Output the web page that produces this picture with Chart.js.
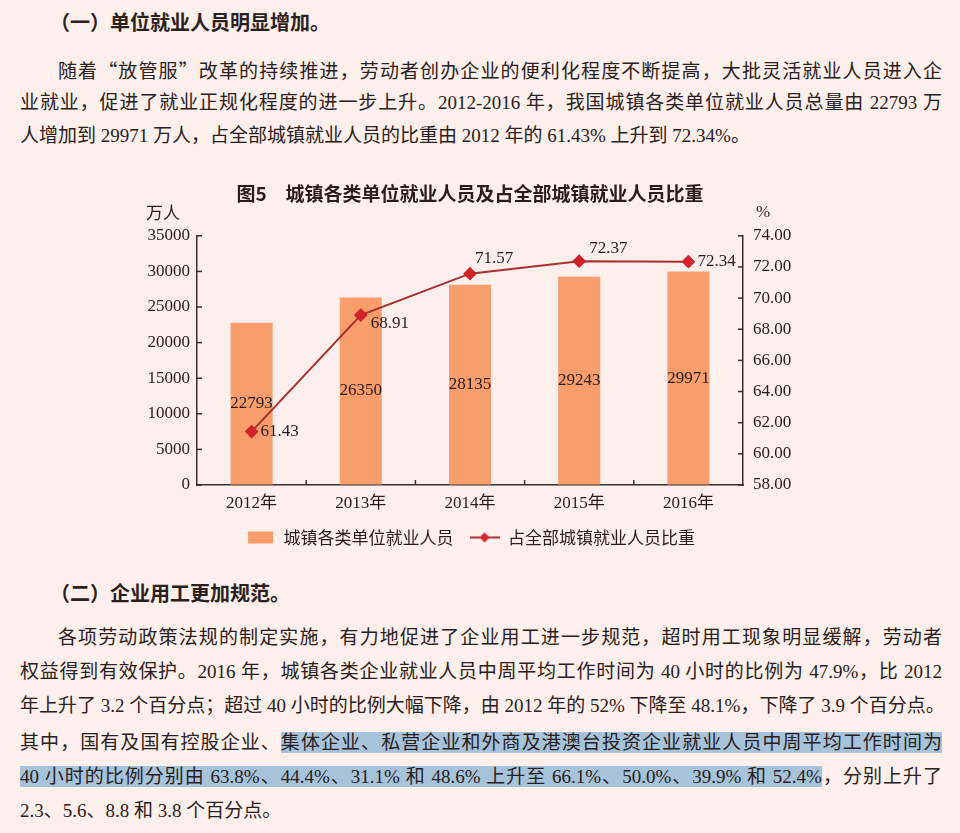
<!DOCTYPE html>
<html lang="zh-CN">
<head>
<meta charset="utf-8">
<title>城镇各类单位就业人员及占全部城镇就业人员比重</title>
<script src="https://cdn.jsdelivr.net/npm/chart.js@4.4.0/dist/chart.umd.min.js"></script>
<style>
  html, body { margin: 0; padding: 0; }
  body {
    width: 960px; height: 833px; overflow: hidden; position: relative;
    background: #fcefec; color: #2a2020;
    font-family: "Liberation Serif", "Noto Sans CJK SC", serif;
  }
  .h { position: absolute; left: 50px; font-family: "Noto Sans CJK SC", sans-serif;
       font-size: 20px; font-weight: 700; line-height: 30px; white-space: nowrap; }
  .ln { position: absolute; left: 20px; width: 922px; font-size: 19px; line-height: 30px;
        white-space: nowrap; }
  .ln.j { text-align: justify; text-align-last: justify; }
  .ln.first { left: 58px; width: 884px; }
  .q { font-family: "Noto Sans CJK SC", sans-serif; }
  mark { background: #a6c3da; color: inherit; }
  #chartBox { position: absolute; left: 0; top: 170px; }
</style>
</head>
<body>

<div class="h" style="top:7px">（一）单位就业人员明显增加。</div>
<div class="ln j first" style="top:55px">随着<span class="q">“</span>放管服<span class="q">”</span>改革的持续推进，劳动者创办企业的便利化程度不断提高，大批灵活就业人员进入企</div>
<div class="ln j" style="top:88px">业就业，促进了就业正规化程度的进一步上升。2012-2016 年，我国城镇各类单位就业人员总量由 22793 万</div>
<div class="ln" style="top:121px">人增加到 29971 万人，占全部城镇就业人员的比重由 2012 年的 61.43% 上升到 72.34%。</div>

<canvas id="chartBox" width="960" height="400"></canvas>

<div class="h" style="top:578px">（二）企业用工更加规范。</div>
<div class="ln j first" style="top:623px">各项劳动政策法规的制定实施，有力地促进了企业用工进一步规范，超时用工现象明显缓解，劳动者</div>
<div class="ln j" style="top:657px">权益得到有效保护。2016 年，城镇各类企业就业人员中周平均工作时间为 40 小时的比例为 47.9%，比 2012</div>
<div class="ln j" style="top:691px">年上升了 3.2 个百分点；超过 40 小时的比例大幅下降，由 2012 年的 52% 下降至 48.1%，下降了 3.9 个百分点。</div>
<div class="ln j" style="top:728px">其中，国有及国有控股企业、<mark>集体企业、私营企业和外商及港澳台投资企业就业人员中周平均工作时间为</mark></div>
<div class="ln j" style="top:762px"><mark>40 小时的比例分别由 63.8%、44.4%、31.1% 和 48.6% 上升至 66.1%、50.0%、39.9% 和 52.4%</mark>，分别上升了</div>
<div class="ln" style="top:796px">2.3、5.6、8.8 和 3.8 个百分点。</div>

<script>
// data
const years = ['2012年', '2013年', '2014年', '2015年', '2016年'];
const employed = [22793, 26350, 28135, 29243, 29971];   // 万人
const ratio = [61.43, 68.91, 71.57, 72.37, 72.34];      // %
const leftTicks = [0, 35000, 5000];                     // min, max, step
const rightTicks = [58, 74, 2];

const chartTitle = '图5　城镇各类单位就业人员及占全部城镇就业人员比重';
const barName = '城镇各类单位就业人员';
const lineName = '占全部城镇就业人员比重';

const barColor = '#f99d6c';
const lineColor = '#a8302f';
const markColor = '#d2232c';
const axisColor = '#3a2e2e';
const textColor = '#2a1c1c';
const serif = '"Liberation Serif", "Noto Sans CJK SC", serif';
const sans = '"Noto Sans CJK SC", sans-serif';

// where each ratio label sits relative to its point: dx, dy
const ratioLabelPos = [[9, 0], [10, 8], [5, -15], [10, -13], [9, 0]];

function swatch(kind) {
    const c = document.createElement('canvas');
    c.width = 30; c.height = 14;
    const g = c.getContext('2d');
    if (kind === 'bar') {
        g.fillStyle = barColor;
        g.fillRect(3, 1, 25, 12);
    } else {
        g.strokeStyle = lineColor;
        g.lineWidth = 2;
        g.beginPath(); g.moveTo(0, 7); g.lineTo(30, 7); g.stroke();
        g.fillStyle = markColor;
        g.beginPath(); g.moveTo(15, 2); g.lineTo(20, 7); g.lineTo(15, 12); g.lineTo(10, 7); g.closePath(); g.fill();
    }
    return c;
}
const swatches = [swatch('bar'), swatch('line')];

const overlay = {
    id: 'overlay',
    afterDatasetsDraw(chart) {
        const {ctx, chartArea, scales} = chart;
        ctx.save();
        // short inward tick marks
        ctx.strokeStyle = axisColor;
        ctx.lineWidth = 1.5;
        const seg = (x1, y1, x2, y2) => { ctx.beginPath(); ctx.moveTo(x1, y1); ctx.lineTo(x2, y2); ctx.stroke(); };
        scales.y.ticks.forEach((t, i) => {
            const py = scales.y.getPixelForTick(i);
            seg(chartArea.left, py, chartArea.left + 5, py);
        });
        scales.y1.ticks.forEach((t, i) => {
            const py = scales.y1.getPixelForTick(i);
            seg(chartArea.right, py, chartArea.right - 5, py);
        });
        for (let i = 0; i < years.length - 1; i++) {
            const px = (scales.x.getPixelForTick(i) + scales.x.getPixelForTick(i + 1)) / 2;
            seg(px, chartArea.bottom, px, chartArea.bottom - 5);
        }

        ctx.fillStyle = textColor;
        ctx.font = '17px ' + serif;
        ctx.textBaseline = 'middle';
        ctx.textAlign = 'center';
        chart.getDatasetMeta(1).data.forEach((bar, i) => {
            ctx.fillText(String(employed[i]), bar.x, (bar.y + bar.base) / 2);
        });
        ctx.textAlign = 'left';
        chart.getDatasetMeta(0).data.forEach((pt, i) => {
            const [dx, dy] = ratioLabelPos[i];
            ctx.fillText(ratio[i].toFixed(2), pt.x + dx, pt.y + dy);
        });

        // units over the axes
        ctx.font = '17px ' + sans;
        ctx.textAlign = 'center';
        ctx.fillText('万人', chartArea.left - 34, chartArea.top - 23);
        ctx.font = '17px ' + serif;
        ctx.fillText('%', chartArea.right + 20, chartArea.top - 23);
        ctx.restore();
    }
};

const chart = new Chart(document.getElementById('chartBox'), {
    data: {
        labels: years,
        datasets: [{
            type: 'line',
            label: lineName,
            data: ratio,
            yAxisID: 'y1',
            borderColor: lineColor,
            borderWidth: 2,
            pointStyle: 'rectRot',
            pointRadius: 5.5,
            pointBackgroundColor: markColor,
            pointBorderColor: markColor,
            tension: 0,
            order: 1
        }, {
            type: 'bar',
            label: barName,
            data: employed,
            yAxisID: 'y',
            backgroundColor: barColor,
            barPercentage: 0.385,
            categoryPercentage: 1,
            order: 2
        }]
    },
    options: {
        responsive: false,
        animation: false,
        layout: { padding: { left: 117, right: 137, top: 0, bottom: 14 } },
        plugins: {
            title: {
                display: true,
                text: chartTitle,
                color: textColor,
                font: { family: sans, size: 19, weight: 'bold' },
                padding: { top: 12, bottom: 31 }
            },
            legend: {
                position: 'bottom',
                labels: {
                    usePointStyle: true,
                    pointStyleWidth: 30,
                    padding: 16,
                    color: textColor,
                    font: { family: sans, size: 17 },
                    generateLabels: (ch) => [1, 0].map(i => ({
                        text: ch.data.datasets[i].label,
                        pointStyle: swatches[i === 1 ? 0 : 1],
                        fillStyle: 'rgba(0,0,0,0)',
                        strokeStyle: 'rgba(0,0,0,0)',
                        lineWidth: 0,
                        fontColor: textColor,
                        hidden: false,
                        datasetIndex: i
                    }))
                }
            },
            tooltip: { enabled: false }
        },
        scales: {
            x: {
                grid: { display: false, drawTicks: false },
                border: { color: axisColor, width: 1.5 },
                ticks: { color: textColor, font: { family: serif, size: 17 }, padding: 8 },
                afterFit: s => { s.height = 28; }
            },
            y: {
                position: 'left',
                min: leftTicks[0], max: leftTicks[1],
                grid: { drawOnChartArea: false, drawTicks: false },
                border: { color: axisColor, width: 1.5 },
                ticks: { stepSize: leftTicks[2], color: textColor, font: { family: serif, size: 17 }, padding: 7,
                         callback: v => String(v) },
                afterFit: s => { s.width = 80; }
            },
            y1: {
                position: 'right',
                min: rightTicks[0], max: rightTicks[1],
                grid: { drawOnChartArea: false, drawTicks: false },
                border: { color: axisColor, width: 1.5 },
                ticks: { stepSize: rightTicks[2], color: textColor, font: { family: serif, size: 17 }, padding: 10,
                         callback: v => Number(v).toFixed(2) },
                afterFit: s => { s.width = 80; }
            }
        }
    },
    plugins: [overlay]
});
</script>
</body>
</html>
